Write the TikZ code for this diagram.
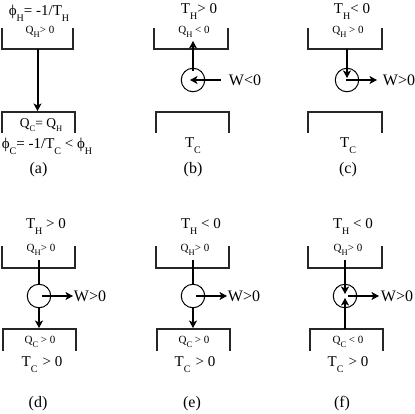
\documentclass[tikz,border=0pt]{standalone}
\usepackage{fontspec}
\setmainfont{Liberation Serif}
\usetikzlibrary{arrows.meta}
\tikzset{
  bath/.style={line width=1.3pt,color=black!85},
  flow/.style={line width=2pt,-{Stealth[length=7.5pt,width=8pt,inset=2pt]}},
  stem/.style={line width=2pt},
  engine/.style={circle,draw,line width=1pt,minimum size=23.5pt,inner sep=0pt},
  lab/.style={anchor=base,inner sep=0pt,font=\fontsize{15}{15}\selectfont},
  wlab/.style={anchor=base,inner sep=0pt,font=\fontsize{16}{16}\selectfont},
  small/.style={anchor=base,inner sep=0pt,font=\fontsize{11}{11}\selectfont},
  mid/.style={anchor=base,inner sep=0pt,font=\fontsize{13.5}{14}\selectfont}
}
\newcommand{\subs}[1]{\raisebox{-6pt}{\fontsize{10}{10}\selectfont #1}}
\newcommand{\subt}[1]{\raisebox{-4.5pt}{\fontsize{8.5}{9}\selectfont #1}}
\begin{document}
\begin{tikzpicture}[x=1pt,y=-1pt]
\useasboundingbox (0,0) rectangle (415,413);
% (a)
\draw[bath] (2,28) -- (2,49) -- (73,49) -- (73,28);
\draw[bath] (2,133) -- (2,112) -- (75,112) -- (75,133);
\coordinate (a1) at (37.5,49); \coordinate (a2) at (37.5,111);
\draw[flow] (a1) -- (a2);
\node[lab] (alab1) at (39,15) {ϕ\subs{H}= -1/T\subs{H}};
\node[small] (alab2) at (40,33) {Q\subt{H}> 0};
\node[mid] (alab3) at (41,127) {Q\subt{C}= Q\subt{H}};
\node[lab] (alab4) at (47,148) {ϕ\subs{C}= -1/T\subs{C} < ϕ\subs{H}};
\node[wlab] (acap) at (38.5,173) {(a)};
% (b)
\draw[bath] (154,28) -- (154,49) -- (228,49) -- (228,28);
\draw[bath] (156,133) -- (156,112) -- (229,112) -- (229,133);
\node[engine] (be) at (193,80) {};
\coordinate (b1) at (193,71); \coordinate (b2) at (193,41);
\coordinate (b3) at (221,80); \coordinate (b4) at (190,80);
\draw[flow] (b1) -- (b2);
\draw[flow] (b3) -- (b4);
\node[lab] (blab1) at (199,13) {T\subs{H}> 0};
\node[small] (blab2) at (194,33) {Q\subt{H} < 0};
\node[wlab] (blab3) at (245,85) {W<0};
\node[lab] (blab4) at (193,147) {T\subs{C}};
\node[wlab] (bcap) at (193,173) {(b)};
% (c)
\draw[bath] (308,28) -- (308,49) -- (382,49) -- (382,28);
\draw[bath] (308,133) -- (308,112) -- (382,112) -- (382,133);
\node[engine] (ce) at (347,80) {};
\coordinate (c1) at (347,49); \coordinate (c2) at (347,78);
\coordinate (c3) at (346,80); \coordinate (c4) at (377,80);
\draw[flow] (c1) -- (c2);
\draw[flow] (c3) -- (c4);
\node[lab] (clab1) at (352,13) {T\subs{H}< 0};
\node[small] (clab2) at (348,33) {Q\subt{H} > 0};
\node[wlab] (clab3) at (399,85) {W>0};
\node[lab] (clab4) at (348,147) {T\subs{C}};
\node[wlab] (ccap) at (348,173) {(c)};
% (d)
\draw[bath] (2,246) -- (2,268) -- (75,268) -- (75,246);
\draw[bath] (3,351) -- (3,329) -- (76,329) -- (76,351);
\node[engine] (de) at (39,296) {};
\coordinate (d0) at (39,260); \coordinate (d1) at (39,308); \coordinate (d2) at (39,328);
\coordinate (d3) at (42,296); \coordinate (d4) at (73,296);
\draw[stem] (d0) -- (de.north);
\draw[flow] (d1) -- (d2);
\draw[flow] (d3) -- (d4);
\node[lab] (dlab1) at (46,228) {T\subs{H} > 0};
\node[small] (dlab2) at (41,251) {Q\subt{H}> 0};
\node[wlab] (dlab3) at (90,301) {W>0};
\node[small] (dlab4) at (40,343) {Q\subt{C} > 0};
\node[lab] (dlab5) at (42,366) {T\subs{C}\,\,> 0};
\node[wlab] (dcap) at (38,407) {(d)};
% (e)
\draw[bath] (156,246) -- (156,268) -- (229,268) -- (229,246);
\draw[bath] (157,351) -- (157,329) -- (230,329) -- (230,351);
\node[engine] (ee) at (193,296) {};
\coordinate (e0) at (193,260); \coordinate (e1) at (193,308); \coordinate (e2) at (193,328);
\coordinate (e3) at (196,296); \coordinate (e4) at (227,296);
\draw[stem] (e0) -- (ee.north);
\draw[flow] (e1) -- (e2);
\draw[flow] (e3) -- (e4);
\node[lab] (elab1) at (201,228) {T\subs{H} < 0};
\node[small] (elab2) at (195,251) {Q\subt{H}> 0};
\node[wlab] (elab3) at (244,301) {W>0};
\node[small] (elab4) at (194,343) {Q\subt{C} > 0};
\node[lab] (elab5) at (195,366) {T\subs{C}\,\,> 0};
\node[wlab] (ecap) at (192,407) {(e)};
% (f)
\draw[bath] (308,246) -- (308,268) -- (382,268) -- (382,246);
\draw[bath] (310,351) -- (310,329) -- (383,329) -- (383,351);
\node[engine] (fe) at (345,296) {};
\coordinate (f0) at (345,260); \coordinate (f1) at (345,294);
\coordinate (f2) at (345,329); \coordinate (f5) at (345,298);
\coordinate (f3) at (348,296); \coordinate (f4) at (379,296);
\draw[flow] (f0) -- (f1);
\draw[flow] (f2) -- (f5);
\draw[flow] (f3) -- (f4);
\node[lab] (flab1) at (353,228) {T\subs{H} < 0};
\node[small] (flab2) at (348,251) {Q\subt{H}> 0};
\node[wlab] (flab3) at (397,301) {W>0};
\node[small] (flab4) at (348,343) {Q\subt{C} < 0};
\node[lab] (flab5) at (348,366) {T\subs{C}\,\,> 0};
\node[wlab] (fcap) at (342,407) {(f)};
\end{tikzpicture}
\end{document}
